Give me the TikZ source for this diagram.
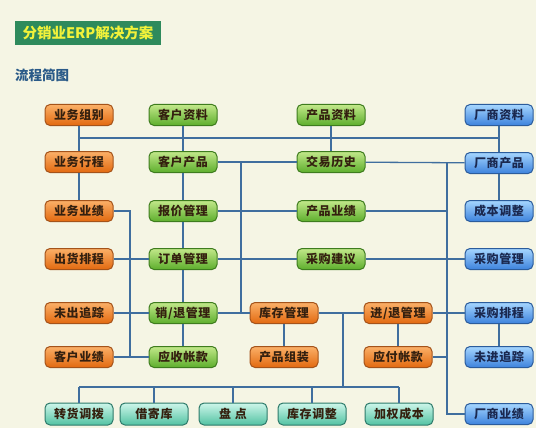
\documentclass[tikz,border=0pt]{standalone}
\usepackage{fontspec}
\newfontfamily\cjk{Noto Sans CJK SC}
\newfontfamily\cjks{Noto Sans CJK SC}[LetterSpace=5]
\definecolor{bgC}{HTML}{F5F5E4}
\definecolor{lineC}{HTML}{3F6E9E}
\definecolor{orgT}{HTML}{FBB068}
\definecolor{orgB}{HTML}{E2690F}
\definecolor{orgD}{HTML}{A4531A}
\definecolor{grnT}{HTML}{C2E88A}
\definecolor{grnB}{HTML}{5DAE2C}
\definecolor{grnD}{HTML}{3E7C1E}
\definecolor{bluT}{HTML}{A6D6FF}
\definecolor{bluB}{HTML}{3C82DC}
\definecolor{bluD}{HTML}{2B5C9C}
\definecolor{tealT}{HTML}{CDF6EA}
\definecolor{tealB}{HTML}{52C2A2}
\definecolor{tealD}{HTML}{2D7A6A}
\definecolor{txtC}{HTML}{34200F}
\definecolor{btxtC}{HTML}{1A284F}
\definecolor{titleC}{HTML}{2E8A5C}
\definecolor{titleT}{HTML}{F2F23A}
\definecolor{headC}{HTML}{2A5A88}
\tikzset{
  box/.style={rounded corners=5pt, minimum width=68pt, minimum height=21pt, inner sep=0pt,
    font=\cjks\bfseries\fontsize{12}{12}\selectfont, line width=1pt},
  ora/.style={box, draw=orgD, top color=orgT, bottom color=orgB, text=txtC},
  grn/.style={box, draw=grnD, top color=grnT, bottom color=grnB, text=txtC},
  blu/.style={box, draw=bluD, top color=bluT, bottom color=bluB, text=btxtC},
  tea/.style={box, minimum height=22pt, draw=tealD, top color=tealT, bottom color=tealB, text=txtC},
  conn/.style={draw=lineC, line width=1.3pt}
}
\begin{document}
\begin{tikzpicture}[x=1pt,y=-1pt]
\fill[bgC] (0,0) rectangle (536,428);
\useasboundingbox (0,0) rectangle (536,428);
% title
\node[fill=titleC, minimum width=146pt, minimum height=24pt, inner sep=0pt, text=titleT,
  font=\cjk\bfseries\fontsize{14.5}{14.5}\selectfont] (title) at (88,33) {分销业ERP解决方案};
\node[anchor=west, inner sep=0pt, text=headC, font=\cjk\bfseries\fontsize{13.5}{13.5}\selectfont] (head) at (15,75) {流程简图};
% column 1
\node[ora] (a1) at (79,115) {业务组别};
\node[ora] (a2) at (79,162) {业务行程};
\node[ora] (a3) at (79,211) {业务业绩};
\node[ora] (a4) at (79,259) {出货排程};
\node[ora] (a5) at (79,313) {未出追踪};
\node[ora] (a6) at (79,357) {客户业绩};
% column 2
\node[grn] (b1) at (183,115) {客户资料};
\node[grn] (b2) at (183,162) {客户产品};
\node[grn] (b3) at (183,211) {报价管理};
\node[grn] (b4) at (183,259) {订单管理};
\node[grn] (b5) at (183,313) {销/退管理};
\node[grn] (b6) at (183,357) {应收帐款};
% stock
\node[ora] (k1) at (284,313) {库存管理};
\node[ora] (k2) at (284,357) {产品组装};
% column 4
\node[grn] (d1) at (331,115) {产品资料};
\node[grn] (d2) at (331,162) {交易历史};
\node[grn] (d3) at (331,211) {产品业绩};
\node[grn] (d4) at (331,259) {采购建议};
\node[ora] (p1) at (398,313) {进/退管理};
\node[ora] (p2) at (398,357) {应付帐款};
% column 5
\node[blu] (e1) at (499,115) {厂商资料};
\node[blu] (e2) at (499,163) {厂商产品};
\node[blu] (e3) at (499,211) {成本调整};
\node[blu] (e4) at (499,259) {采购管理};
\node[blu] (e5) at (499,313) {采购排程};
\node[blu] (e6) at (499,357) {未进追踪};
\node[blu] (e7) at (499,414) {厂商业绩};
% bottom row
\node[tea] (z1) at (79,414) {转货调拨};
\node[tea] (z2) at (154,414) {借寄库};
\node[tea] (z3) at (233,414) {盘\,\,点};
\node[tea] (z4) at (312,414) {库存调整};
\node[tea] (z5) at (399,414) {加权成本};
% junction coordinates
\coordinate (t1) at (79,138);
\coordinate (t5) at (499,138);
\coordinate (j1) at (241,162);
\coordinate (j2) at (241,313);
\coordinate (j3) at (343,313);
\coordinate (c1) at (130,211);
\coordinate (c2) at (130,357);
\coordinate (r0) at (447,163);
\coordinate (r1) at (447,211);
\coordinate (r2) at (447,357);
\coordinate (r9) at (447,414);
\coordinate (bl) at (79,387);
\coordinate (br) at (399,387);
% connectors
\draw[conn] (t1) -- (t5);
\draw[conn] (a1) -- (a2);
\draw[conn] (a2) -- (a3);
\draw[conn] (b1) -- (b2);
\draw[conn] (b2) -- (b3);
\draw[conn] (b3) -- (b4);
\draw[conn] (b4) -- (b5);
\draw[conn] (b5) -- (b6);
\draw[conn] (d1) -- (d2);
\draw[conn] (e1) -- (e2);
\draw[conn] (e2) -- (e3);
\draw[conn] (e5) -- (e6);
\draw[conn] (k1) -- (k2);
\draw[conn] (p1) -- (p2);
\draw[conn] (a3) -- (c1) -- (c2);
\draw[conn] (a4) -- (b4);
\draw[conn] (a5) -- (b5);
\draw[conn] (a6) -- (b6);
\draw[conn] (b2) -- (d2);
\draw[conn] (j1) -- (j2);
\draw[conn] (b3) -- (d3);
\draw[conn] (b4) -- (d4);
\draw[conn] (b5) -- (k1);
\draw[conn] (k1) -- (p1);
\draw[conn] (j3) -- (j3 |- bl);
\draw[conn] (d2) -- (e2);
\draw[conn] (r0) -- (r9) -- (e7);
\draw[conn] (d3) -- (r1);
\draw[conn] (d4) -- (e4);
\draw[conn] (p2) -- (r2);
\draw[conn] (p1) -- (e5);
\draw[conn] (bl) -- (br);
\draw[conn] (bl) -- (z1);
\draw[conn] (z2 |- bl) -- (z2);
\draw[conn] (z3 |- bl) -- (z3);
\draw[conn] (z4 |- bl) -- (z4);
\draw[conn] (br) -- (z5);
\end{tikzpicture}
\end{document}
